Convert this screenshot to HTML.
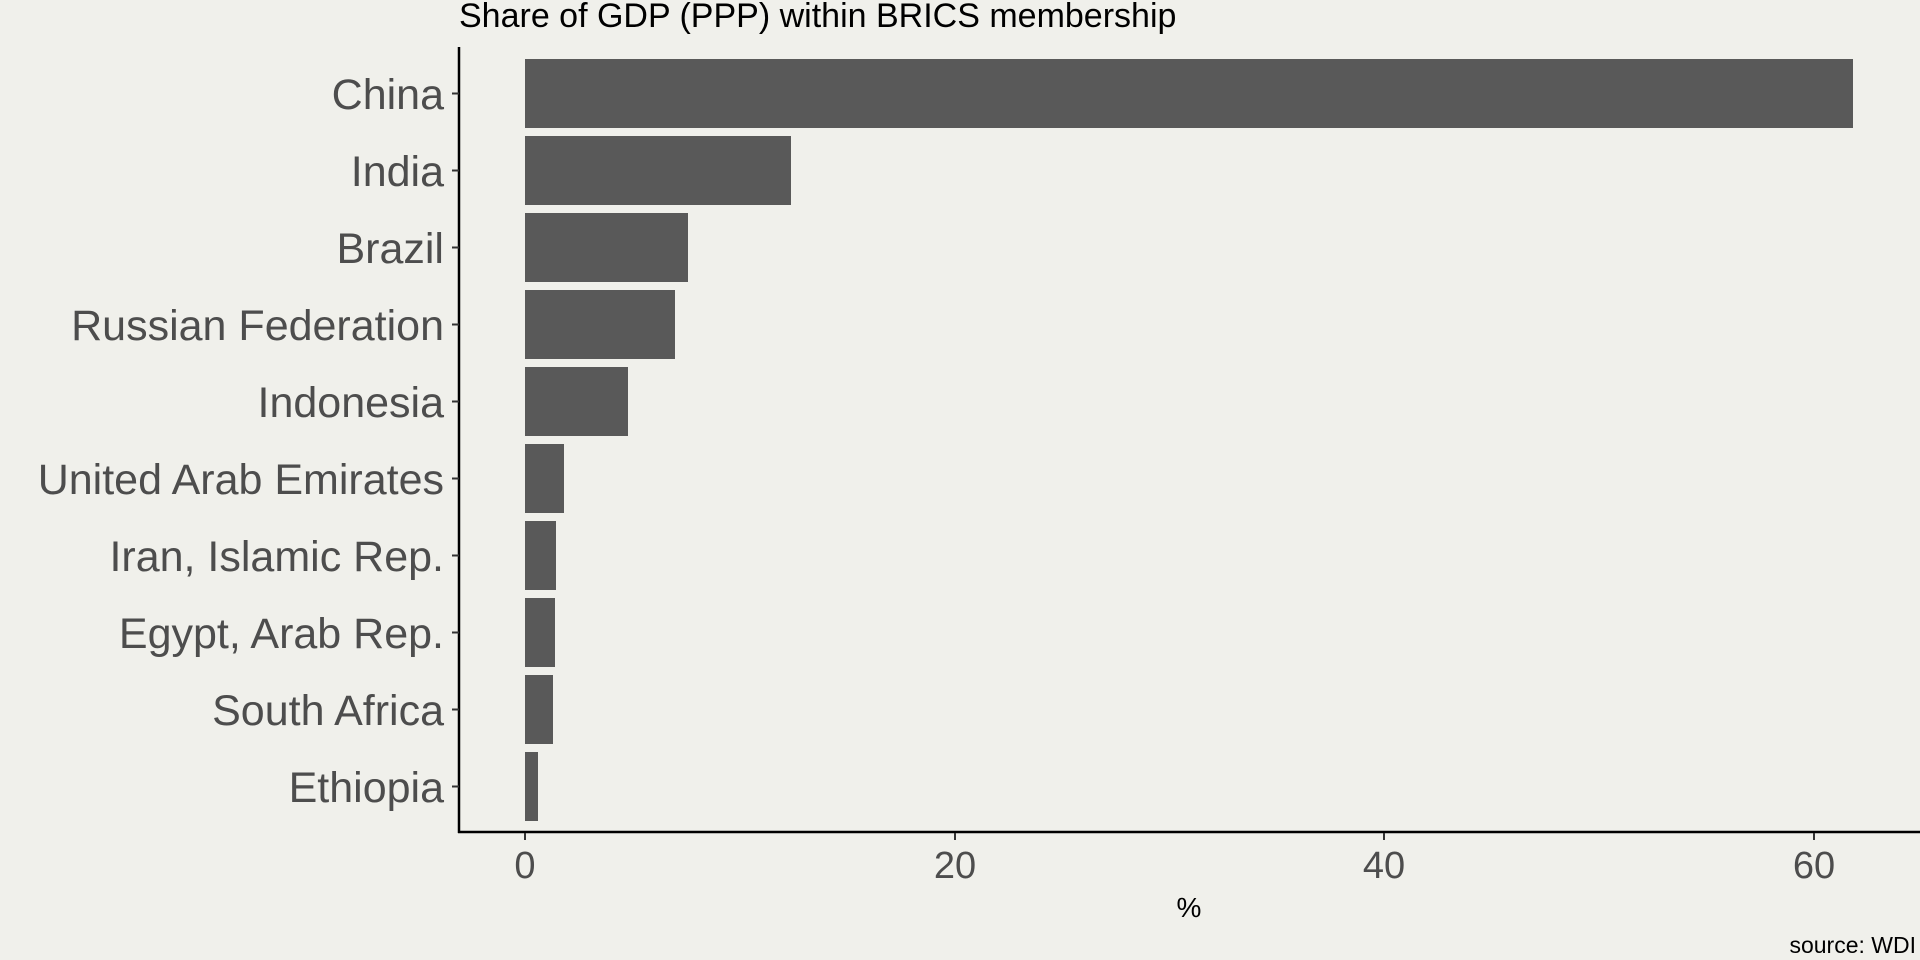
<!DOCTYPE html>
<html><head><meta charset="utf-8"><style>
html,body{margin:0;padding:0;background:#f0f0eb;}
svg{display:block;font-family:"Liberation Sans",Arial,sans-serif;}
</style></head><body>
<svg width="1920" height="960" viewBox="0 0 1920 960" xmlns="http://www.w3.org/2000/svg">
<rect width="1920" height="960" fill="#f0f0eb"/>
<text x="459" y="27" font-size="34" fill="#000">Share of GDP (PPP) within BRICS membership</text>
<g fill="#595959">
<rect x="525" y="59" width="1328" height="69"/>
<rect x="525" y="136" width="266" height="69"/>
<rect x="525" y="213" width="163" height="69"/>
<rect x="525" y="290" width="150" height="69"/>
<rect x="525" y="367" width="103" height="69"/>
<rect x="525" y="444" width="39" height="69"/>
<rect x="525" y="521" width="31" height="69"/>
<rect x="525" y="598" width="30" height="69"/>
<rect x="525" y="675" width="28" height="69"/>
<rect x="525" y="752" width="13" height="69"/>
</g>
<g stroke="#000" stroke-width="2.5" fill="none">
<line x1="459" y1="47" x2="459" y2="833"/>
<line x1="458" y1="832" x2="1920" y2="832"/>
</g>
<g stroke="#333" stroke-width="2">
<line x1="452" y1="93.5" x2="459" y2="93.5"/>
<line x1="452" y1="170.5" x2="459" y2="170.5"/>
<line x1="452" y1="247.5" x2="459" y2="247.5"/>
<line x1="452" y1="324.5" x2="459" y2="324.5"/>
<line x1="452" y1="401.5" x2="459" y2="401.5"/>
<line x1="452" y1="478.5" x2="459" y2="478.5"/>
<line x1="452" y1="555.5" x2="459" y2="555.5"/>
<line x1="452" y1="632.5" x2="459" y2="632.5"/>
<line x1="452" y1="709.5" x2="459" y2="709.5"/>
<line x1="452" y1="786.5" x2="459" y2="786.5"/>
<line x1="525" y1="833" x2="525" y2="840"/>
<line x1="955" y1="833" x2="955" y2="840"/>
<line x1="1384" y1="833" x2="1384" y2="840"/>
<line x1="1814" y1="833" x2="1814" y2="840"/>
</g>
<g font-size="43" fill="#4d4d4d" text-anchor="end">
<text x="444" y="109">China</text>
<text x="444" y="186">India</text>
<text x="444" y="263">Brazil</text>
<text x="444" y="340">Russian Federation</text>
<text x="444" y="417">Indonesia</text>
<text x="444" y="494">United Arab Emirates</text>
<text x="444" y="571">Iran, Islamic Rep.</text>
<text x="444" y="648">Egypt, Arab Rep.</text>
<text x="444" y="725">South Africa</text>
<text x="444" y="802">Ethiopia</text>
</g>
<g font-size="38" fill="#4d4d4d" text-anchor="middle">
<text x="525" y="878">0</text>
<text x="955" y="878">20</text>
<text x="1384" y="878">40</text>
<text x="1814" y="878">60</text>
</g>
<text x="1189" y="917" font-size="28" fill="#000" text-anchor="middle">%</text>
<text x="1916" y="953" font-size="23" fill="#000" text-anchor="end">source: WDI</text>
</svg>
</body></html>
